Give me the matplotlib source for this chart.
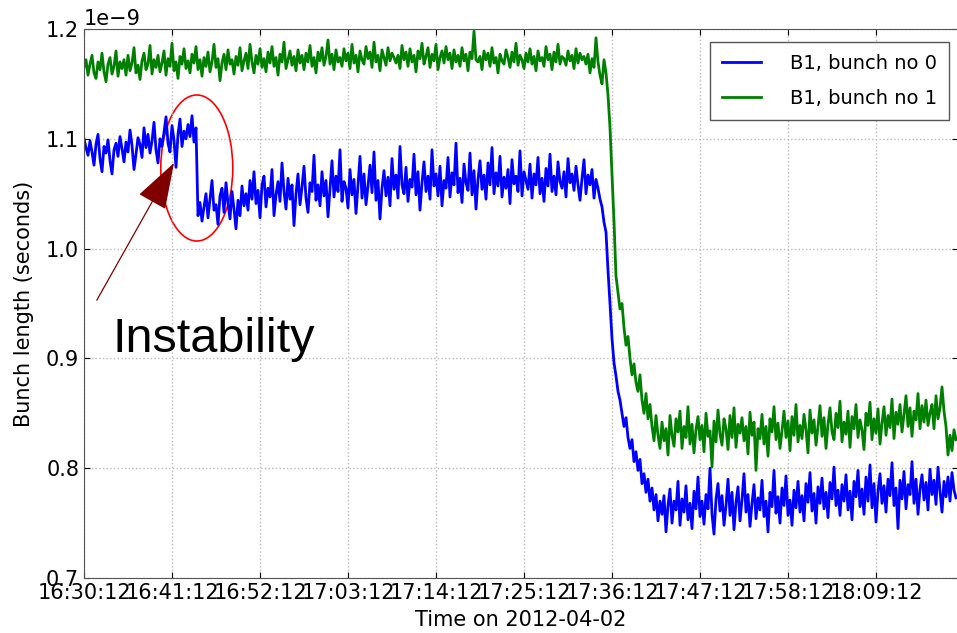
import numpy as np
import matplotlib
matplotlib.use("Agg")
import matplotlib.pyplot as plt
import matplotlib.dates as mdates
from matplotlib.patches import Ellipse

# bunch length in ps, one sample every 15 s from 16:30:12
START = np.datetime64("2012-04-02T16:30:12")
STEP_S = 15

bunch0 = [
    # before the instability (16:30 - 16:44)
    1100, 1092, 1085, 1098, 1088, 1076, 1095, 1104, 1082, 1070,
    1093, 1087, 1099, 1080, 1068, 1090, 1096, 1084, 1102, 1091,
    1079, 1097, 1088, 1108, 1094, 1072, 1086, 1101, 1095, 1083,
    1110, 1092, 1104, 1087, 1098, 1115, 1090, 1078, 1100, 1093,
    1106, 1120, 1096, 1088, 1112, 1099, 1074, 1104, 1118, 1093,
    1107, 1100, 1113, 1102, 1121, 1097, 1110,
    # after the jump
    1030, 1042, 1025, 1038, 1050, 1028, 1045, 1062, 1035, 1040,
    1022, 1048, 1055, 1033, 1060, 1041, 1027, 1052, 1036, 1018,
    1044, 1030, 1057, 1039,
    1050, 1035, 1062, 1045, 1070, 1041, 1053, 1028, 1058, 1066,
    1038, 1055, 1047, 1072, 1030, 1049, 1061, 1043, 1078, 1052,
    1036, 1064, 1045, 1058, 1021, 1050, 1068, 1040, 1056, 1075,
    1046, 1033, 1060, 1052, 1085, 1044, 1058, 1039, 1070, 1048,
    1062, 1029, 1054, 1080, 1047, 1066, 1052, 1090, 1043, 1061,
    1055, 1037, 1072, 1049, 1063, 1032, 1058, 1084, 1046, 1068,
    1040, 1057, 1076, 1051, 1088, 1044, 1062, 1027, 1055, 1071,
    1048, 1065, 1039, 1082, 1054, 1067, 1046, 1093, 1058, 1050,
    1074, 1043, 1063, 1056, 1086, 1049, 1070, 1035, 1060, 1079,
    1052, 1066, 1045, 1090, 1057, 1068, 1048, 1075, 1039, 1062,
    1055, 1083, 1047, 1069, 1058, 1096, 1051, 1064, 1042, 1077,
    1060, 1053, 1087, 1049, 1071, 1036, 1063, 1080, 1054, 1067,
    1045, 1078, 1058, 1092, 1050, 1069, 1057, 1084, 1047, 1065,
    1055, 1072, 1041, 1081, 1059, 1066, 1052, 1089, 1048, 1070,
    1062, 1054, 1077, 1046, 1068, 1058, 1083, 1050, 1064, 1043,
    1073, 1057, 1086, 1052, 1066, 1049, 1079, 1061, 1055, 1070,
    1047, 1082, 1060, 1068, 1053, 1075, 1058, 1044, 1064, 1081,
    1050, 1067, 1058, 1072, 1046, 1063, 1055,
    # ramp down
    1045, 1038, 1024, 1015, 980, 950, 918, 896, 884, 870,
    862, 850, 838, 846, 828, 818, 826, 806, 815, 798,
    808, 786, 795, 778, 790, 770, 782, 762, 776, 752,
    770,
    # settled
    758, 775, 742, 766, 781, 750, 770, 762, 788, 748,
    772, 760, 784, 753, 768, 745, 779, 763, 792, 756,
    770, 749, 776, 763, 800, 758, 740, 772, 786, 761,
    775, 748, 766, 790, 757, 778, 744, 769, 783, 752,
    771, 795, 760, 776, 747, 768, 785, 754, 773, 762,
    789, 756, 770, 742, 778, 765, 798, 759, 774, 750,
    782, 766, 793, 757, 771, 748, 780, 764, 788, 760,
    775, 752, 786, 769, 796, 761, 777, 750, 783, 768,
    791, 763, 778, 755, 787, 772, 801, 766, 780, 757,
    785, 770, 794, 762, 779, 753, 788, 774, 798, 765,
    781, 758, 792, 770, 803, 764, 786, 751, 779, 795,
    768, 784, 760, 790, 775, 805, 766, 782, 745, 789,
    772, 797, 763, 785, 776, 806, 768, 790, 758, 781,
    794, 771, 787, 762, 799, 776, 789, 767, 801, 779,
    760, 788, 774, 792, 770, 796, 780, 773,
]

bunch1 = [
    1165, 1172, 1158, 1168, 1176, 1160, 1155, 1170, 1163, 1178,
    1161, 1152, 1168, 1174, 1159, 1166, 1180, 1157, 1170, 1164,
    1172, 1158, 1176, 1162, 1169, 1183, 1160, 1167, 1154, 1171,
    1178, 1163, 1168, 1185, 1159, 1172, 1165, 1176, 1161, 1169,
    1180, 1158, 1173, 1166, 1187, 1162, 1170, 1155, 1175, 1168,
    1182, 1164, 1171, 1160, 1177, 1169, 1184, 1163, 1172, 1157,
    1174, 1166, 1179, 1161, 1170, 1186, 1165, 1173, 1153, 1169,
    1177, 1163, 1181, 1168, 1172, 1159, 1175, 1167, 1183, 1162,
    1171, 1178, 1164, 1186, 1170, 1160, 1176, 1168, 1182, 1165,
    1173, 1161, 1179, 1169, 1184, 1166, 1174, 1158, 1177, 1170,
    1188, 1164, 1172, 1180, 1167, 1175, 1162, 1181, 1169, 1176,
    1163, 1178, 1170, 1185, 1166, 1174, 1160, 1179, 1171, 1183,
    1167, 1175, 1190, 1168, 1177, 1163, 1181, 1170, 1174, 1166,
    1182, 1171, 1178, 1164, 1186, 1169, 1176, 1161, 1180, 1172,
    1168, 1184, 1173, 1179, 1165, 1188, 1170, 1176, 1162, 1181,
    1174, 1167, 1183, 1171, 1178, 1174, 1169, 1176, 1164, 1185,
    1172, 1179, 1166, 1182, 1170, 1176, 1161, 1180, 1173, 1187,
    1168, 1175, 1183, 1165, 1177, 1171, 1186, 1163, 1174, 1180,
    1169, 1184, 1172, 1178, 1164, 1181, 1170, 1176, 1166, 1183,
    1171, 1177, 1162, 1179, 1173, 1198, 1172, 1170, 1175, 1163,
    1180, 1172, 1178, 1166, 1183, 1169, 1174, 1160, 1177, 1171,
    1168, 1181, 1174, 1165, 1179, 1170, 1187, 1167, 1176, 1172,
    1164, 1178, 1170, 1182, 1168, 1175, 1162, 1180, 1171, 1174,
    1166, 1184, 1172, 1177, 1163, 1179, 1170, 1186, 1168, 1175,
    1173, 1167, 1180, 1171, 1176, 1164, 1182, 1169, 1178, 1172,
    1175, 1168, 1177, 1160, 1173, 1165, 1192, 1170, 1158,
    # ramp down
    1150, 1172, 1160, 1140, 1110, 1068, 1025, 975, 960, 945,
    950, 928, 912, 920, 900, 885, 895, 878, 870, 885,
    862, 850, 868, 845, 858, 838, 825, 848, 830, 818,
    # settled
    842, 825, 836, 812, 848, 830, 820, 845, 833, 852,
    818, 838, 828, 856, 822, 840, 814, 835, 847, 826,
    839, 815, 850, 829, 834, 801, 843, 824, 853, 831,
    821, 845, 836, 817, 848, 828, 855, 819, 840, 832,
    846, 825, 838, 813, 851, 830, 842, 798, 836, 827,
    849, 822, 838, 811, 845, 833, 856, 826, 841, 818,
    834, 852, 828, 843, 816, 847, 830, 858, 824, 839,
    827, 849, 835, 814, 853, 832, 844, 821, 838, 857,
    829, 846, 818, 840, 855, 833, 826, 850, 837, 861,
    824, 842, 831, 852, 819, 847, 836, 858, 828, 844,
    835, 817, 850, 839, 860, 826, 845, 832, 854, 822,
    841, 856, 830, 848, 837, 863, 827, 851, 840, 858,
    833, 849, 866, 838, 855, 829, 852, 844, 868, 836,
    857, 842, 862, 839, 850, 858, 836, 866, 845, 855,
    874, 852, 838, 812, 830, 816, 835, 826,
]

labels = ["B1, bunch no 0", "B1, bunch no 1"]

times = START + np.arange(len(bunch0)) * np.timedelta64(STEP_S, "s")
t0 = mdates.date2num(START)
def tnum(minutes):
    return t0 + minutes / 1440.0

fig = plt.figure(figsize=(9.57, 6.33), dpi=100)
ax = fig.add_axes([84 / 957, 55 / 633, 874 / 957, 549 / 633])

ax.plot(times, np.array(bunch0) * 1e-12, color="#0000ff", lw=2, label=labels[0])
ax.plot(times, np.array(bunch1) * 1e-12, color="#008000", lw=2, label=labels[1])

ax.set_xlim(tnum(0), tnum(109.25))
ax.set_ylim(0.7e-9, 1.2e-9)
ax.set_xticks([tnum(11 * i) for i in range(10)])
ax.xaxis.set_major_formatter(mdates.DateFormatter("%H:%M:%S"))
ax.set_yticks(np.arange(0.7, 1.21, 0.1) * 1e-9)

ax.grid(True, color="#bbbbbb", linestyle=":", linewidth=1)
ax.tick_params(direction="in", length=4, labelsize=15, top=True, right=True)
ax.yaxis.get_offset_text().set_fontsize(15)
for sp in ax.spines.values():
    sp.set_color("#555555")

ax.set_xlabel("Time on 2012-04-02", fontsize=15)
ax.set_ylabel("Bunch length (seconds)", fontsize=15)
ax.xaxis.set_label_coords(0.5, -0.058)
ax.yaxis.set_label_coords(-0.057, 0.5)

# instability marker
ax.add_patch(Ellipse((tnum(14.1), 1.0734e-9), 9 / 1440.0, 0.133e-9,
                     fill=False, edgecolor="red", lw=1.2))
ax.annotate("", xy=(tnum(11.25), 1.078e-9), xytext=(tnum(1.6), 0.953e-9),
            arrowprops=dict(arrowstyle="-|>,head_length=1.2,head_width=0.4",
                            color="#800000", lw=0.9, mutation_scale=25,
                            shrinkA=0, shrinkB=0))
ax.text(tnum(3.6), 0.906e-9, "Instability", fontsize=35,
        family="Liberation Sans", va="baseline")

leg = ax.legend(loc="upper right", bbox_to_anchor=(949 / 957, 1 - 42 / 633),
                bbox_transform=fig.transFigure, borderaxespad=0, fontsize=14,
                fancybox=False, framealpha=1, handlelength=2.0,
                handletextpad=1.5, labelspacing=0.85, borderpad=0.6)
leg.get_frame().set_edgecolor("#555555")

fig.savefig("out.png", dpi=100)
